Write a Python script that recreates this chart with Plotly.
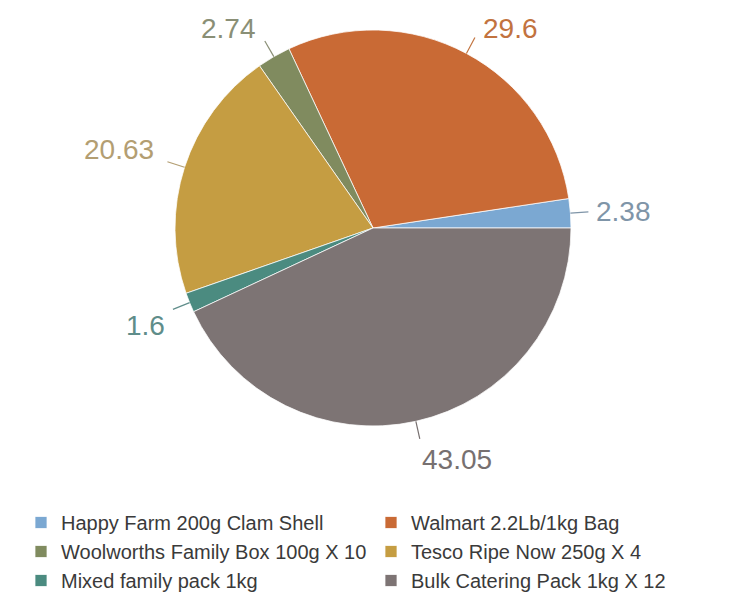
import math
import plotly.graph_objects as go

labels = ["Happy Farm 200g Clam Shell", "Walmart 2.2Lb/1kg Bag",
          "Woolworths Family Box 100g X 10", "Tesco Ripe Now 250g X 4",
          "Mixed family pack 1kg", "Bulk Catering Pack 1kg X 12"]
values = [2.38, 29.6, 2.74, 20.63, 1.6, 43.05]
slice_colors = ["#7ba8d2", "#c96a35", "#808b5f", "#c59d42", "#4b8b80", "#7d7474"]
label_colors = ["#7f95a8", "#c2733f", "#8a8f76", "#b39e72", "#5f8d8a", "#777070"]

# the page body adds an 8px margin, so the figure is 8px smaller on each axis
W, H = 721, 597
CX, CY, R = 365, 220, 198
LABEL_SIZE = 28
LABEL_BOX_H = 37  # approx. rendered height of a label box, keeps labels inside the top edge

total = sum(values)
# plotly puts the first slice clockwise of the rotation line when counterclockwise,
# so rotate so that the first slice begins at 3 o'clock
rotation = 90 - values[0] / total * 360

fig = go.Figure(go.Pie(
    labels=labels, values=values, sort=False,
    direction="counterclockwise", rotation=rotation,
    marker=dict(colors=slice_colors, line=dict(color="rgba(255,255,255,0.75)", width=1)),
    textinfo="none", hoverinfo="label+value",
    domain=dict(x=[(CX - R) / W, (CX + R) / W], y=[1 - (CY + R) / H, 1 - (CY - R) / H]),
))

cum = 0.0
for v, col in zip(values, label_colors):
    mid = math.radians((cum + v / 2) / total * 360)
    cum += v
    c, s = math.cos(mid), math.sin(mid)
    x0, y0 = CX + R * c, CY - R * s
    x1, y1 = CX + (R + 18) * c, CY - (R + 18) * s
    fig.add_shape(type="line", xref="paper", yref="paper",
                  x0=x0 / W, y0=1 - y0 / H, x1=x1 / W, y1=1 - y1 / H,
                  line=dict(color=col, width=1.2))
    tx, ty = CX + (R + 25) * c, CY - (R + 25) * s
    xa = "left" if c > 0 else "right"
    if s > 0.3:
        ya = "bottom"
        if ty + 6 < LABEL_BOX_H:
            # pushed down to stay inside the top edge: move sideways off the leader line
            ty = LABEL_BOX_H
            tx += 4 if c > 0 else -4
        else:
            ty += 6
            tx -= 6
    elif s < -0.3:
        ya = "top"
        ty -= 3
    else:
        ya = "middle"
    fig.add_annotation(x=tx / W, y=1 - ty / H, xref="paper", yref="paper",
                       text=f"{v:g}", showarrow=False, xanchor=xa, yanchor=ya,
                       borderpad=0,
                       font=dict(family="Liberation Sans", size=LABEL_SIZE, color=col))

fig.update_layout(
    width=W, height=H, margin=dict(l=0, r=0, t=0, b=0, autoexpand=False),
    paper_bgcolor="white", plot_bgcolor="white",
    showlegend=True,
    legend=dict(orientation="h", x=13 / W, y=1 - 495 / H, xanchor="left", yanchor="top",
                entrywidth=305, entrywidthmode="pixels",
                font=dict(family="Liberation Sans", size=20, color="#3a3a3a"),
                traceorder="normal"),
)
fig.write_html("out.html")
